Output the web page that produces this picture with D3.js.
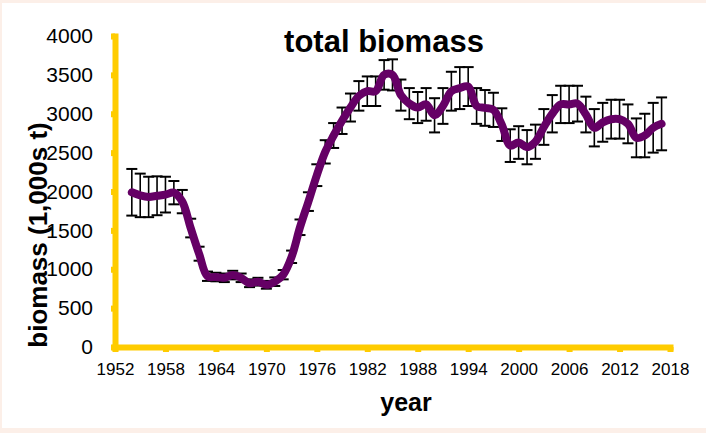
<!DOCTYPE html>
<html>
<head>
<meta charset="utf-8">
<script src="https://cdn.jsdelivr.net/npm/d3@7/dist/d3.min.js"></script>
<style>
  body { margin: 0; background: #fcefe8; }
  svg { display: block; }
  text { font-family: "Liberation Sans", Arial, Helvetica, sans-serif; fill: #000; }
</style>
</head>
<body>
<svg id="chart" width="706" height="433"></svg>
<script>
// Survey years
const years = [
  1954, 1955, 1956, 1957, 1958, 1959, 1960, 1961, 1962, 1963,
  1964, 1965, 1966, 1967, 1968, 1969, 1970, 1971, 1972, 1973,
  1974, 1975, 1976, 1977, 1978, 1979, 1980, 1981, 1982, 1983,
  1984, 1985, 1986, 1987, 1988, 1989, 1990, 1991, 1992, 1993,
  1994, 1995, 1996, 1997, 1998, 1999, 2000, 2001, 2002, 2003,
  2004, 2005, 2006, 2007, 2008, 2009, 2010, 2011, 2012, 2013,
  2014, 2015, 2016, 2017
];

// Estimated total biomass (1,000s t)
const biomass = [
  1990, 1950, 1930, 1945, 1960, 1985, 1870, 1530, 1200, 910,
  900, 890, 925, 890, 820, 840, 800, 840, 930, 1160,
  1540, 1870, 2210, 2510, 2720, 2910, 3080, 3230, 3290, 3290,
  3500, 3500, 3240, 3130, 3080, 3120, 2980, 3100, 3290, 3330,
  3350, 3100, 3075, 3050, 2860, 2590, 2630, 2570, 2640, 2830,
  3000, 3120, 3120, 3130, 2990, 2820, 2890, 2930, 2930, 2870,
  2690, 2720, 2820, 2870
];

// Half-width of the uncertainty bar for each year (1,000s t)
const errHalf = [
  300, 280, 260, 250, 230, 150, 150, 120, 90, 60,
  55, 55, 55, 55, 50, 50, 50, 55, 60, 80,
  100, 120, 140, 150, 160, 170, 180, 190, 190, 190,
  190, 200, 200, 200, 200, 210, 220, 230, 250, 270,
  250, 230, 230, 220, 210, 210, 210, 220, 220, 230,
  240, 240, 240, 230, 230, 240, 250, 250, 250, 250,
  250, 280, 320, 340
];

const xTicks = [1952, 1958, 1964, 1970, 1976, 1982, 1988, 1994, 2000, 2006, 2012, 2018];
const yTicks = [0, 500, 1000, 1500, 2000, 2500, 3000, 3500, 4000];

const svg = d3.select("#chart");

// Page panel
svg.append("rect").attr("x", 2).attr("y", 3).attr("width", 704).attr("height", 425).attr("fill", "#ffffff");

const x = d3.scaleLinear().domain([1952, 2018]).range([115, 670]);
const y = d3.scaleLinear().domain([0, 4000]).range([347, 36]);

const axisColor = "#ffcc00";

// y axis
const gy = svg.append("g")
  .attr("transform", `translate(${x.range()[0]},0)`)
  .call(d3.axisLeft(y).tickValues(yTicks).tickFormat(d3.format("d")).tickSize(4).tickSizeOuter(0).tickPadding(18));
gy.select(".domain").attr("stroke", axisColor).attr("stroke-width", 6).attr("stroke-linecap", "square");
gy.selectAll(".tick line").attr("stroke", axisColor).attr("stroke-width", 6);
gy.selectAll(".tick text").style("font-size", "21px").attr("fill", "#000");

// x axis
const gx = svg.append("g")
  .attr("transform", `translate(0,${y(0)})`)
  .call(d3.axisBottom(x).tickValues(xTicks).tickFormat(d3.format("d")).tickSize(5).tickSizeOuter(0).tickPadding(11));
gx.select(".domain").attr("stroke", axisColor).attr("stroke-width", 6).attr("stroke-linecap", "square");
gx.selectAll(".tick line").attr("stroke", axisColor).attr("stroke-width", 6);
gx.selectAll(".tick text").style("font-size", "17px").attr("fill", "#000");

// Uncertainty bars
const data = years.map((yr, i) => ({ yr, v: biomass[i], e: errHalf[i] }));
const bars = svg.append("g").attr("stroke", "#000");
bars.selectAll("line.v").data(data).join("line")
  .attr("class", "v")
  .attr("x1", d => x(d.yr)).attr("x2", d => x(d.yr))
  .attr("y1", d => y(d.v + d.e)).attr("y2", d => y(d.v - d.e))
  .attr("stroke-width", 1.6);
const capW = 5.5;
bars.selectAll("line.hi").data(data).join("line")
  .attr("class", "hi")
  .attr("x1", d => x(d.yr) - capW).attr("x2", d => x(d.yr) + capW)
  .attr("y1", d => y(d.v + d.e)).attr("y2", d => y(d.v + d.e))
  .attr("stroke-width", 2);
bars.selectAll("line.lo").data(data).join("line")
  .attr("class", "lo")
  .attr("x1", d => x(d.yr) - capW).attr("x2", d => x(d.yr) + capW)
  .attr("y1", d => y(d.v - d.e)).attr("y2", d => y(d.v - d.e))
  .attr("stroke-width", 2);

// Biomass trajectory
const line = d3.line().x(d => x(d.yr)).y(d => y(d.v)).curve(d3.curveCatmullRom.alpha(0.5));
svg.append("path")
  .datum(data)
  .attr("d", line)
  .attr("fill", "none")
  .attr("stroke", "#650065")
  .attr("stroke-width", 8)
  .attr("stroke-linejoin", "round")
  .attr("stroke-linecap", "round");

// Titles
svg.append("text")
  .attr("x", 384).attr("y", 52)
  .attr("text-anchor", "middle")
  .style("font-size", "31px").style("font-weight", "bold")
  .text("total biomass");

svg.append("text")
  .attr("x", 406).attr("y", 411)
  .attr("text-anchor", "middle")
  .style("font-size", "25px").style("font-weight", "bold")
  .text("year");

svg.append("text")
  .attr("transform", "translate(47,235) rotate(-90)")
  .attr("text-anchor", "middle")
  .style("font-size", "26px").style("font-weight", "bold")
  .text("biomass (1,000s t)");
</script>
</body>
</html>
